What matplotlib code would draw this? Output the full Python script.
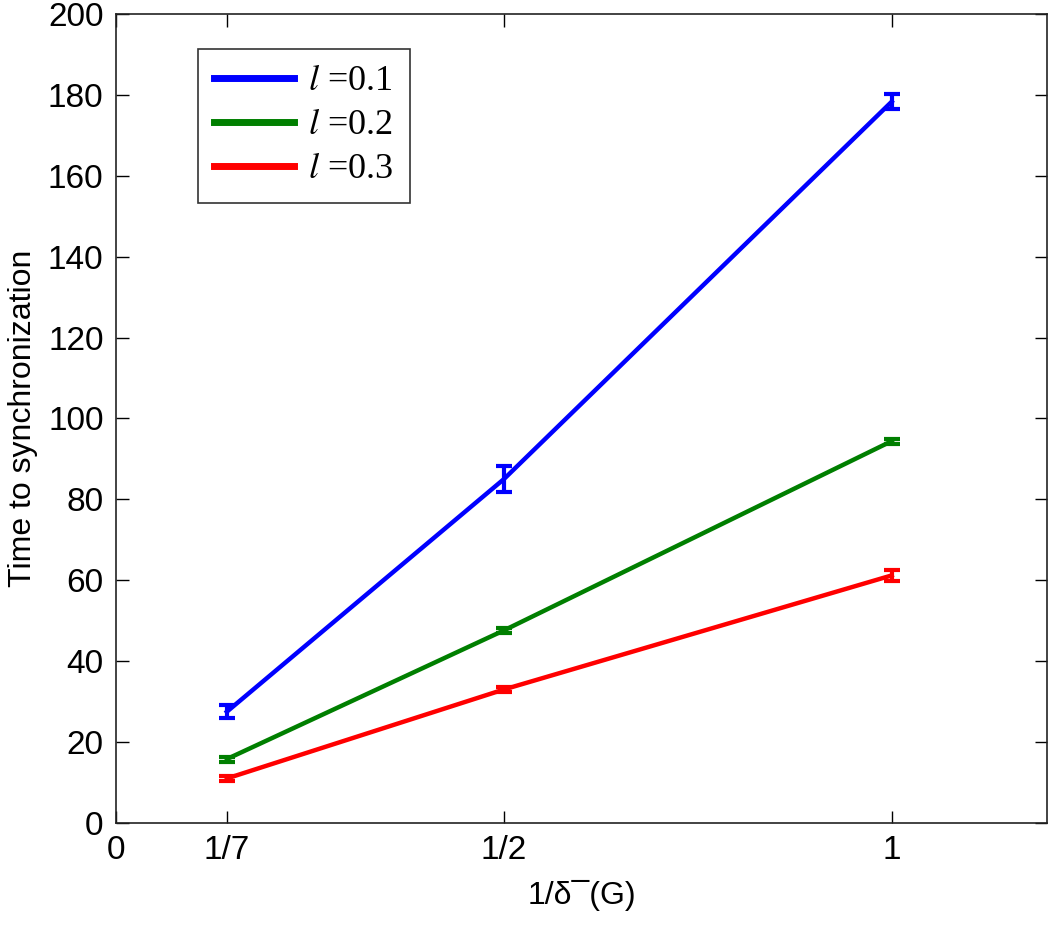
import matplotlib
matplotlib.use("Agg")
import matplotlib.pyplot as plt
from matplotlib.lines import Line2D

x = [1 / 7, 1 / 2, 1]
xtick_pos = [0, 1 / 7, 1 / 2, 1]
xtick_labels = ["0", "1/7", "1/2", "1"]

labels = [r"$l$ =0.1", r"$l$ =0.2", r"$l$ =0.3"]
colors = ["#0000ff", "#007f00", "#ff0000"]
means = [
    [27.5, 85.0, 178.3],
    [15.8, 47.6, 94.4],
    [11.0, 33.0, 61.2],
]
errs = [
    [1.6, 3.2, 1.8],
    [0.6, 0.6, 0.6],
    [0.5, 0.5, 1.4],
]

plt.rcParams["font.family"] = ["Liberation Sans", "DejaVu Sans"]
plt.rcParams["mathtext.fontset"] = "stix"

fig = plt.figure(figsize=(10.5, 9.27), dpi=100)
ax = fig.add_axes([0.1105, 0.1122, 0.8865, 0.8728])

handles = []
for m, e, c, lab in zip(means, errs, colors, labels):
    ax.errorbar(x, m, yerr=e, color=c, linewidth=3.2, elinewidth=3,
                capsize=6, capthick=3)
    handles.append(Line2D([], [], color=c, linewidth=5, label=lab))

ax.set_xlim(0, 1.2)
ax.set_ylim(0, 200)
ax.set_xticks(xtick_pos)
ax.set_xticklabels(xtick_labels)
ax.set_yticks(range(0, 201, 20))
ax.tick_params(direction="in", top=True, right=True, labelsize=24,
               length=9, width=1, pad=9)
for s in ax.spines.values():
    s.set_linewidth(1.2)
    s.set_color("#222222")

ax.set_xlabel("1/δ¯(G)", fontsize=23, labelpad=10)
ax.set_ylabel("Time to synchronization", fontsize=23, labelpad=7)

leg = ax.legend(handles=handles, loc="upper left",
                bbox_to_anchor=(0.088, 0.957),
                borderaxespad=0, fancybox=False, edgecolor="black",
                prop={"family": "Liberation Serif", "size": 26},
                handlelength=2.2, handletextpad=0.4, labelspacing=0.3,
                borderpad=0.45)
leg.get_frame().set_linewidth(1.2)

fig.savefig("out.png", dpi=100)
